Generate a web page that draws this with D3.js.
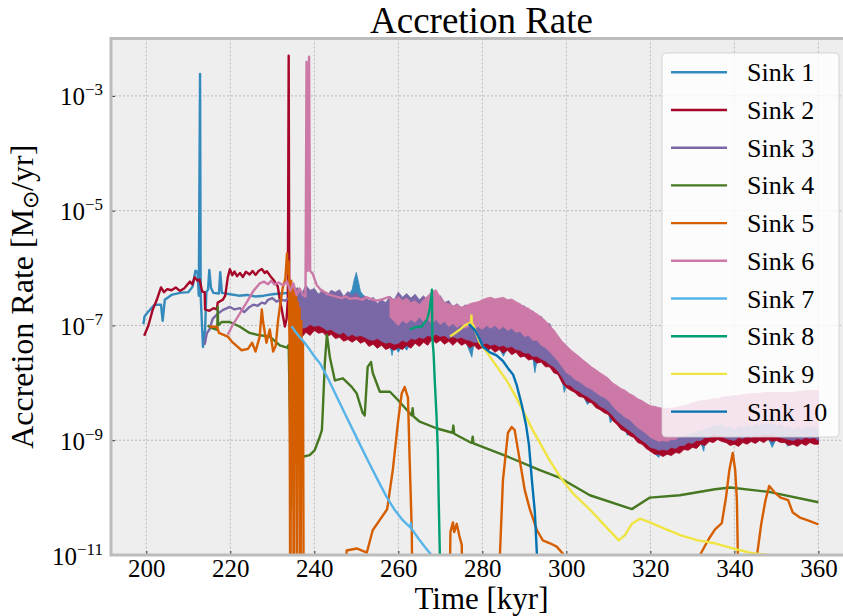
<!DOCTYPE html>
<html>
<head>
<meta charset="utf-8">
<script src="https://cdn.jsdelivr.net/npm/d3@7"></script>
<style>
  body { margin: 0; background: #fff; }
  svg { display: block; }
  text { font-family: "Liberation Serif", "Times New Roman", serif; fill: #000; }
</style>
</head>
<body>
<div id="chart"></div>
<script>
// values, rates in Msun/yr
const sinkNames = ['Sink 1', 'Sink 2', 'Sink 3', 'Sink 4', 'Sink 5', 'Sink 6', 'Sink 7', 'Sink 8', 'Sink 9', 'Sink 10'];
const sinkColors = ['#348ABD', '#A60628', '#7A68A6', '#467821', '#D55E00', '#CC79A7', '#56B4E9', '#009E73', '#F0E442', '#0072B2'];
const xTicks = [200, 220, 240, 260, 280, 300, 320, 340, 360];
const yTickExps = [-11, -9, -7, -5, -3];

// smooth parts: [time kyr, rate]
const sink1 = [[199.3,1.05e-7],[199.6,1.45e-7],[200.5,1.75e-7],[202,2.3e-7],[203.5,2.3e-7],[203.9,1.2e-7],[204.4,2.8e-7],[206,3.4e-7],[208,3.7e-7],[210,3.8e-7],[211,4.7e-7],[211.7,9e-7],[212.2,8.5e-7],[212.5,3.3e-7],[212.8,2.4e-3],[212.95,3.3e-7],[213.5,4.2e-8],[214.0,8.5e-8],[214.3,3.8e-7],[214.7,4.2e-7],[215.0,9.3e-7],[215.4,4.5e-7],[216,3.7e-7],[217.3,3.6e-7],[217.6,8.5e-7],[218,3.7e-7],[220,3.5e-7],[222,3.3e-7],[224,3.4e-7],[226,3.2e-7],[228,3.3e-7],[230,3.5e-7],[232,3.6e-7],[234,3.7e-7],[235,2.8e-7]];
const sink2 = [[199.5,6.6e-8],[200.5,1.0e-7],[201.5,1.85e-7],[202.5,2.8e-7],[203.5,4.6e-7],[204.2,3.8e-7],[205,4.3e-7],[206,4.1e-7],[207,4.6e-7],[208,4.0e-7],[209,4.4e-7],[210.4,5.8e-7],[211,5.2e-7],[211.5,6.9e-7],[212.2,6.0e-7],[212.7,6.3e-7],[213.3,3.9e-7],[213.9,3.8e-7],[214.0,1.9e-7],[215,1.8e-7],[216,2.0e-7],[216.8,1.9e-7],[217.0,2.5e-7],[218.2,2.8e-7],[218.8,3.3e-7],[219.4,6.9e-7],[219.9,9.5e-7],[220.5,7.5e-7],[221,8.7e-7],[221.6,7.2e-7],[222.3,8.2e-7],[223,7.0e-7],[223.7,8.6e-7],[224.6,7.7e-7],[225.3,8.9e-7],[226,7.6e-7],[226.8,9.0e-7],[227.5,9.6e-7],[228.2,8.2e-7],[228.7,8.8e-7],[229.5,7.3e-7],[230.3,6.2e-7],[231.3,4.8e-7],[231.8,2.8e-7],[232.5,1.5e-7],[233.0,9.6e-8],[233.4,1.3e-7],[233.7,2.8e-7],[233.9,5.0e-3],[234.05,1.7e-7]];
const sink3 = [[213.9,4.6e-8],[214.4,7.3e-8],[215.0,8.4e-8],[215.8,1.3e-7],[217,1.6e-7],[218.2,1.85e-7],[219.9,2.1e-7],[221,1.9e-7],[222.3,2.0e-7],[223.3,1.7e-7],[224.6,2.1e-7],[225.5,2.3e-7],[226.5,2.2e-7],[227.5,2.5e-7],[228.3,2.4e-7],[229,2.8e-7],[230,3.0e-7],[231,2.6e-7],[232,2.8e-7],[233,2.7e-7],[234,3.0e-7]];
const sink4 = [[214.6,1.0e-7],[215.6,9e-8],[216.9,8.4e-8],[217.0,2.1e-7],[217.1,1.0e-7],[218,1.15e-7],[219.9,1.15e-7],[222.3,9.5e-8],[224.6,7.4e-8],[226.3,6.9e-8],[229.4,6.4e-8],[231.8,4.5e-8],[233.5,4.1e-8],[233.9,4.6e-8],[234.2,2.2e-9],[234.4,6.3e-11],[234.6,2.0e-10],[234.9,4.0e-10],[236.5,5.0e-10],[238.9,5.5e-10],[240.1,6.7e-10],[241.3,1.15e-9],[241.8,1.5e-9],[242.0,3.0e-9],[242.5,2.2e-8],[243.0,6.9e-8],[243.7,2.8e-8],[244.9,1.1e-8],[246.8,1.2e-8],[248.9,8.5e-9],[250.1,6.5e-9],[251.5,3.0e-9],[252.0,2.7e-9],[252.7,1.9e-8],[253.5,2.3e-8],[253.9,1.5e-8],[255.6,7.0e-9],[258.0,7.0e-9],[260.4,4.6e-9],[263.2,2.7e-9],[263.4,3.6e-9],[263.6,2.6e-9],[265.1,2.1e-9],[269.2,1.6e-9],[272.9,1.35e-9],[273.1,1.8e-9],[273.3,1.3e-9],[277.0,9.3e-10],[277.5,9e-10],[277.7,1.15e-9],[277.9,8.8e-10],[286.5,5.0e-10],[293.7,3.0e-10],[298.5,2.2e-10],[305.6,1.1e-10],[315.6,6.3e-11],[319.9,1.0e-10],[327,1.1e-10],[335.4,1.4e-10],[339,1.5e-10],[348.5,1.25e-10],[360,8.3e-11]];
const sink5 = [[215.1,9.5e-8],[216.8,9.5e-8],[217.3,7.4e-8],[219.4,6.4e-8],[220.3,5.3e-8],[221.5,4.4e-8],[222.7,3.7e-8],[224.2,3.9e-8],[225.2,5.0e-8],[226.0,3.5e-8],[227.0,6.4e-8],[227.5,1.9e-7],[227.8,1.17e-7],[228.6,5.0e-8],[229.4,8.5e-8],[230.2,3.5e-8],[230.8,4.4e-8],[231.4,1.27e-7],[231.8,2.1e-7],[232.5,4.6e-7],[233.1,6.5e-7],[233.5,1.8e-6],[233.7,8e-7],[233.9,1.3e-6],[234.1,5e-8],[234.3,1e-13],[234.5,6e-7],[234.7,2e-10],[234.9,5e-7],[235.1,1e-13],[235.3,4e-7],[235.5,1e-9],[235.7,3.5e-7],[235.9,1e-13],[236.1,2.5e-7],[236.3,5e-9],[236.5,2e-7],[236.7,1e-13],[236.9,1.2e-7],[237.1,3e-9],[237.3,5e-8],[237.5,1e-13],
  [246.0,1e-13],[247.7,1.2e-11],[250.1,1.3e-11],[252.5,1.1e-11],[253.9,2.7e-11],[255.6,4.1e-11],[257.3,6.2e-11],[257.5,7.5e-11],[258.7,3.1e-10],[259.9,2.0e-9],[260.8,6.5e-9],[261.5,8.5e-9],[262.3,5.5e-9],[262.7,4.5e-10],[263.2,2.7e-11],[263.5,1e-13],
  [272.0,1e-13],[272.4,2.5e-11],[273.0,3.7e-11],[273.3,2.5e-11],[273.9,3.5e-11],[274.5,2.2e-11],[275.1,1.5e-11],[275.5,1e-13],
  [284.0,1e-13],[284.2,1.05e-11],[284.9,2.0e-10],[286.1,1.35e-9],[287.0,1.7e-9],[287.7,1.5e-9],[288.9,4.5e-10],[290.1,1.35e-10],[291.3,6.3e-11],[293.0,2.7e-11],[294.4,1.8e-11],[296.1,1.6e-11],[297.7,1.4e-11],[299.2,1.05e-11],[300.5,1e-13],
  [331.5,1e-13],[331.8,1.0e-11],[333.9,1.9e-11],[335.4,2.8e-11],[337.0,3.6e-11],[338.0,1.0e-10],[338.8,3.0e-10],[339.6,6.0e-10],[340.2,3.0e-10],[340.6,9.0e-11],[341.3,1e-13],
  [345.0,1e-13],[345.4,1.0e-11],[346.4,3.5e-11],[347.4,9.0e-11],[348.3,1.6e-10],[349.5,1.25e-10],[351.0,1.0e-10],[352.8,9.0e-11],[353.9,5.5e-11],[355.6,4.5e-11],[358.0,3.9e-11],[360.0,3.4e-11]];
const sink6 = [[219.4,6.9e-8],[220.5,1.0e-7],[222,1.5e-7],[224,2.6e-7],[225.5,4.0e-7],[227,5.4e-7],[228,5.8e-7],[229,5.2e-7],[229.7,6.0e-7],[230.5,5.2e-7],[231.5,5.6e-7],[232.5,5.0e-7],[233.5,5.8e-7],[234.3,4.0e-7],[235,5.4e-7],[235.8,3.4e-7],[236.5,4.4e-7],[237.3,3.4e-7],[237.9,3.2e-7],[238.15,3.9e-3],[238.4,9e-7],[238.75,4.8e-3],[239.0,9e-7],[239.6,8e-7],[240.6,5.0e-7],[241.5,4.2e-7],[242.5,3.8e-7],[243.7,3.4e-7],[245,3.2e-7],[246.5,3.0e-7],[247.5,3.2e-7],[248.5,2.9e-7],[250,3.0e-7],[251.5,2.8e-7],[252.3,3.1e-7],[253,3.0e-7],[254,2.8e-7],[255,2.7e-7],[256.5,2.9e-7],[257.5,3.1e-7],[258,3.1e-7]];
const sink7 = [[234.6,9.7e-8],[235.5,7.8e-8],[236.5,6.3e-8],[237.5,5.2e-8],[238.9,3.8e-8],[240.0,2.9e-8],[241.5,2.1e-8],[243.5,1.1e-8],[245.4,5.6e-9],[247.3,2.9e-9],[249.2,1.5e-9],[251.2,7.5e-10],[253.2,3.8e-10],[255.3,1.9e-10],[257.3,1.0e-10],[259.2,6.0e-11],[261.1,4.0e-11],[262.9,3.0e-11],[263.0,3.6e-11],[263.1,2.9e-11],[265.1,1.8e-11],[266.6,1.3e-11],[267.9,1.0e-11],[268.8,8e-12]];
const sink8 = [[262.7,8.5e-8],[263.8,9.2e-8],[265.6,9.6e-8],[266.9,1.3e-7],[267.5,2.0e-7],[267.9,3.5e-7],[268.0,4.2e-7],[268.1,6e-8],[268.3,4.0e-8],[268.4,3.2e-8],[268.7,1.0e-8],[269.1,2.6e-9],[269.4,6.9e-10],[269.6,1.0e-10],[269.9,9e-12]];
const sink9 = [[272.3,6.5e-8],[272.7,6.7e-8],[274.6,8.4e-8],[275.8,1.0e-7],[277.0,1.1e-7],[277.3,1.1e-7],[277.4,1.5e-7],[277.5,1.1e-7],[278.0,9.5e-8],[279.4,5.0e-8],[281.1,3.4e-8],[283.5,1.9e-8],[285.8,1.1e-8],[288.2,5.3e-9],[292.0,1.5e-9],[296.0,4.5e-10],[298.5,2.3e-10],[301.5,1.2e-10],[305.6,6.2e-11],[309.6,3.0e-11],[312.5,1.8e-11],[313.9,2.2e-11],[315.6,3.5e-11],[317.5,4.3e-11],[319.9,3.7e-11],[323.2,2.9e-11],[327.3,2.2e-11],[331.3,1.8e-11],[335.4,1.6e-11],[339.6,1.3e-11],[343.7,1.1e-11],[347.7,1.0e-11],[349.5,9e-12]];
const sink10 = [[276.8,1.05e-7],[278.2,8.4e-8],[279.4,5.7e-8],[280.1,4.3e-8],[281.8,3.4e-8],[283.4,3.0e-8],[284.9,2.4e-8],[286.1,1.8e-8],[287.3,1.4e-8],[288.2,9.0e-9],[289.4,4.1e-9],[290.4,1.85e-9],[291.1,8.3e-10],[291.8,2.0e-10],[292.5,5.6e-11],[293.0,1.0e-11],[293.3,5e-12]];

// fast-flickering parts, read as the low and high edge of the noise: [time kyr, low rate, high rate]
const sink1Noise = [[235,7.9e-8,2.8e-7],[236,7.6e-8,3.1e-7],[238,8.5e-8,2.8e-7],[240,9.2e-8,2.6e-7],[242,8.5e-8,2.8e-7],[244,7.6e-8,2.8e-7],[246,6.7e-8,3.1e-7],[248,6.2e-8,3.3e-7],[249,6.7e-8,4.2e-7],[249.5,6.7e-8,6.3e-7],[250,6.2e-8,8.4e-7],[250.5,6.2e-8,5.8e-7],[251,5.7e-8,3.9e-7],[252,5.7e-8,3.1e-7],[254,5.1e-8,2.4e-7],[256,4.9e-8,2.2e-7],[258,4.5e-8,1.9e-7],[258.5,3.0e-8,1.75e-7],[259,4.5e-8,1.55e-7],[260,3.4e-8,1.75e-7],[261,4.5e-8,1.75e-7],[262,3.7e-8,1.6e-7],[263,4.9e-8,1.6e-7],[264,5.3e-8,1.6e-7],[266,5.7e-8,1.6e-7],[268,6.2e-8,1.55e-7],[270,5.9e-8,1.4e-7],[272,5.7e-8,1.4e-7],[274,5.5e-8,1.27e-7],[276,5.3e-8,1.27e-7],[277.5,2.8e-8,1.17e-7],[278,4.9e-8,1.17e-7],[280,4.5e-8,1.17e-7],[282,4.3e-8,1.17e-7],[284,4.1e-8,1.08e-7],[285,2.9e-8,1.08e-7],[286,4.0e-8,1.08e-7],[288,3.7e-8,1.0e-7],[290,3.1e-8,9.2e-8],[292,2.8e-8,7.9e-8],[292.5,1.5e-8,7.3e-8],[293,2.4e-8,6.7e-8],[294,2.5e-8,5.7e-8],[296,2.0e-8,4.5e-8],[298,1.5e-8,3.1e-8],[299,1.1e-8,2.6e-8],[299.5,6.8e-9,2.4e-8],[300,9.0e-9,2.1e-8],[302,7.4e-9,1.6e-8],[304,6.0e-9,1.25e-8],[305,4.2e-9,1.15e-8],[306,4.9e-9,9.8e-9],[308,3.7e-9,8.3e-9],[310,3.0e-9,6.5e-9],[310.5,2.0e-9,6.0e-9],[311,2.4e-9,5.6e-9],[312,2.0e-9,4.7e-9],[314,1.54e-9,3.7e-9],[314.5,1.21e-9,3.4e-9],[315,1.31e-9,3.4e-9],[316,1.21e-9,3.2e-9],[318,9.1e-10,2.5e-9],[320,6.9e-10,2.1e-9],[322,5.0e-10,1.8e-9],[322.5,6.1e-10,1.8e-9],[324,6.1e-10,1.8e-9],[326,6.7e-10,1.95e-9],[328,7.5e-10,2.1e-9],[330,8.1e-10,2.3e-9],[332,9.1e-10,2.5e-9],[332.7,6.4e-10,2.5e-9],[333,8.8e-10,2.5e-9],[334,1.03e-9,2.5e-9],[336,1.12e-9,2.7e-9],[338,9.9e-10,2.7e-9],[340,9.1e-10,2.7e-9],[342,9.9e-10,2.7e-9],[344,1.03e-9,2.8e-9],[346,1.07e-9,2.8e-9],[348,1.12e-9,2.9e-9],[349,7.5e-10,2.9e-9],[350,1.07e-9,2.9e-9],[352,9.9e-10,2.9e-9],[352.7,7.8e-10,2.9e-9],[353,8.8e-10,2.9e-9],[354,9.1e-10,2.7e-9],[356,9.5e-10,2.8e-9],[358,9.9e-10,2.9e-9],[360,9.1e-10,2.7e-9]];

const sink2Noise = [[234.05,7.6e-8,1.7e-7],[235,6.4e-8,1.4e-7],[236,7.3e-8,1.6e-7],[237,6.2e-8,1.4e-7],[238,7.6e-8,1.7e-7],[239,6.7e-8,1.5e-7],[240,8.2e-8,1.8e-7],[241,7.3e-8,1.6e-7],[242,7.6e-8,1.7e-7],[243,6.4e-8,1.4e-7],[244,7.0e-8,1.55e-7],[245,5.9e-8,1.3e-7],[246,6.2e-8,1.4e-7],[247,5.3e-8,1.2e-7],[248,5.7e-8,1.3e-7],[249,5.1e-8,1.1e-7],[250,5.7e-8,1.3e-7],[251,4.9e-8,1.1e-7],[252,5.3e-8,1.2e-7],[253,4.3e-8,9.6e-8],[254,4.7e-8,1.05e-7],[255,4.0e-8,8.9e-8],[256,4.5e-8,1.0e-7],[257,3.8e-8,8.5e-8],[258,4.1e-8,9.2e-8],[259,3.7e-8,8.2e-8],[260,4.1e-8,9.2e-8],[261,3.8e-8,8.5e-8],[262,4.5e-8,1.0e-7],[263,4.0e-8,8.9e-8],[264,4.9e-8,1.1e-7],[265,4.3e-8,9.6e-8],[266,5.1e-8,1.1e-7],[267,4.5e-8,1.0e-7],[268,5.7e-8,1.3e-7],[269,4.9e-8,1.1e-7],[270,5.5e-8,1.2e-7],[271,4.7e-8,1.05e-7],[272,5.3e-8,1.2e-7],[273,4.5e-8,1.0e-7],[274,5.3e-8,1.2e-7],[275,4.5e-8,1.0e-7],[276,4.9e-8,1.1e-7],[277,4.1e-8,9.2e-8],[278,4.5e-8,1.0e-7],[279,3.8e-8,8.5e-8],[280,4.1e-8,9.2e-8],[281,3.5e-8,7.9e-8],[282,4.0e-8,8.9e-8],[283,3.4e-8,7.6e-8],[284,3.8e-8,8.5e-8],[285,3.3e-8,7.3e-8],[286,3.7e-8,8.2e-8],[287,3.1e-8,7.0e-8],[288,3.4e-8,7.6e-8],[289,2.8e-8,6.2e-8],[290,2.9e-8,6.4e-8],[291,2.5e-8,5.5e-8],[292,2.6e-8,5.7e-8],[293,2.2e-8,4.9e-8],[294,2.3e-8,5.1e-8],[295,1.9e-8,4.3e-8],[296,1.9e-8,4.1e-8],[297,1.5e-8,3.4e-8],[298,1.4e-8,3.1e-8],[299,1.0e-8,2.3e-8],[300,8.3e-9,1.85e-8],[301,7.4e-9,1.65e-8],[302,6.8e-9,1.5e-8],[303,5.8e-9,1.3e-8],[304,5.6e-9,1.25e-8],[305,4.7e-9,1.05e-8],[306,4.5e-9,1.0e-8],[307,3.7e-9,8.3e-9],[308,3.4e-9,7.7e-9],[309,3.0e-9,6.8e-9],[310,2.8e-9,6.3e-9],[311,2.2e-9,4.9e-9],[312,1.9e-9,4.2e-9],[313,1.54e-9,3.4e-9],[314,1.42e-9,3.2e-9],[315,1.21e-9,2.7e-9],[316,1.12e-9,2.5e-9],[317,9.1e-10,2.0e-9],[318,8.5e-10,1.9e-9],[319,7.2e-10,1.6e-9],[320,6.4e-10,1.42e-9],[321,5.7e-10,1.26e-9],[322,5.7e-10,1.26e-9],[323,5.2e-10,1.17e-9],[324,5.7e-10,1.26e-9],[325,5.4e-10,1.21e-9],[326,6.1e-10,1.36e-9],[327,5.9e-10,1.31e-9],[328,6.9e-10,1.54e-9],[329,6.7e-10,1.48e-9],[330,7.5e-10,1.66e-9],[331,7.2e-10,1.6e-9],[332,8.5e-10,1.9e-9],[333,8.1e-10,1.8e-9],[334,9.5e-10,2.1e-9],[335,9.1e-10,2.0e-9],[336,1.03e-9,2.3e-9],[337,9.5e-10,2.1e-9],[338,9.1e-10,2.0e-9],[339,8.1e-10,1.8e-9],[340,8.5e-10,1.9e-9],[341,7.8e-10,1.75e-9],[342,9.1e-10,2.0e-9],[343,8.5e-10,1.9e-9],[344,9.5e-10,2.1e-9],[345,8.8e-10,1.95e-9],[346,9.9e-10,2.2e-9],[347,9.1e-10,2.0e-9],[348,1.03e-9,2.3e-9],[349,9.5e-10,2.1e-9],[350,9.9e-10,2.2e-9],[351,9.1e-10,2.0e-9],[352,9.1e-10,2.0e-9],[353,8.1e-10,1.8e-9],[354,8.5e-10,1.9e-9],[355,7.8e-10,1.75e-9],[356,8.8e-10,1.95e-9],[357,8.1e-10,1.8e-9],[358,9.1e-10,2.0e-9],[359,8.5e-10,1.9e-9],[360,8.5e-10,1.9e-9]];

const sink3Noise = [[234,9.6e-8,5.0e-7],[235,8.5e-8,3.9e-7],[236,8.2e-8,4.6e-7],[237,8.9e-8,3.6e-7],[238,9.2e-8,5.0e-7],[239,1.04e-7,4.1e-7],[240,9.6e-8,4.4e-7],[241,1.0e-7,3.5e-7],[242,9.2e-8,4.2e-7],[243,8.2e-8,3.3e-7],[244,8.5e-8,4.1e-7],[245,7.6e-8,3.8e-7],[246,7.0e-8,4.2e-7],[247,7.6e-8,3.2e-7],[248,6.4e-8,3.9e-7],[249,7.0e-8,3.3e-7],[250,6.4e-8,3.8e-7],[251,6.7e-8,3.0e-7],[252,6.2e-8,3.3e-7],[253,5.7e-8,2.7e-7],[254,5.5e-8,3.1e-7],[255,5.9e-8,2.4e-7],[256,5.3e-8,2.8e-7],[257,4.9e-8,2.5e-7],[258,5.1e-8,3.2e-7],[259,4.7e-8,2.8e-7],[260,4.9e-8,3.8e-7],[261,5.5e-8,3.1e-7],[262,5.1e-8,3.6e-7],[263,5.9e-8,3.0e-7],[264,5.7e-8,3.5e-7],[265,6.2e-8,2.8e-7],[266,5.9e-8,3.3e-7],[267,6.7e-8,2.7e-7],[268,6.4e-8,3.8e-7],[269,7.0e-8,3.0e-7],[270,6.4e-8,3.3e-7],[271,6.7e-8,2.5e-7],[272,5.9e-8,2.7e-7],[273,6.4e-8,2.1e-7],[274,5.9e-8,2.4e-7],[275,6.2e-8,2.0e-7],[276,5.7e-8,2.3e-7],[277,5.5e-8,2.0e-7],[278,5.1e-8,2.4e-7],[279,5.1e-8,2.1e-7],[280,4.7e-8,2.7e-7],[281,4.9e-8,2.4e-7],[282,4.5e-8,3.0e-7],[283,4.7e-8,2.5e-7],[284,4.3e-8,3.0e-7],[285,4.5e-8,2.4e-7],[286,4.1e-8,2.8e-7],[287,4.3e-8,2.3e-7],[288,3.8e-8,2.5e-7],[289,3.7e-8,2.1e-7],[290,3.3e-8,2.2e-7],[291,3.3e-8,1.7e-7],[292,2.9e-8,1.8e-7],[293,2.9e-8,1.4e-7],[294,2.6e-8,1.45e-7],[295,2.4e-8,1.08e-7],[296,2.1e-8,1.08e-7],[297,1.9e-8,7.3e-8],[298,1.6e-8,6.4e-8],[299,1.25e-8,4.5e-8],[300,9.4e-9,4.3e-8],[301,9.0e-9,3.1e-8],[302,7.7e-9,3.1e-8],[303,7.1e-9,2.4e-8],[304,6.3e-9,2.4e-8],[305,5.8e-9,1.8e-8],[306,5.1e-9,1.8e-8],[307,4.6e-9,1.4e-8],[308,3.9e-9,1.4e-8],[309,3.6e-9,1.1e-8],[310,3.2e-9,1.15e-8],[311,2.7e-9,8.7e-9],[312,2.2e-9,8.7e-9],[313,1.9e-9,6.8e-9],[314,1.66e-9,7.1e-9],[315,1.48e-9,5.6e-9],[316,1.31e-9,5.8e-9],[317,1.12e-9,4.5e-9],[318,9.9e-10,4.7e-9],[319,8.8e-10,3.7e-9],[320,7.5e-10,3.9e-9],[321,7.2e-10,3.3e-9],[322,6.7e-10,3.6e-9],[323,6.9e-10,3.2e-9],[324,6.7e-10,3.4e-9],[325,7.5e-10,3.0e-9],[326,7.2e-10,3.6e-9],[327,8.1e-10,3.3e-9],[328,8.1e-10,3.9e-9],[329,9.1e-10,3.6e-9],[330,8.8e-10,4.4e-9],[331,9.9e-10,4.0e-9],[332,9.9e-10,4.7e-9],[333,1.12e-9,4.2e-9],[334,1.12e-9,4.9e-9],[335,1.26e-9,4.5e-9],[336,1.21e-9,5.1e-9],[337,1.17e-9,4.7e-9],[338,1.07e-9,5.6e-9],[339,1.03e-9,4.9e-9],[340,9.9e-10,5.8e-9],[341,1.12e-9,5.1e-9],[342,1.07e-9,6.0e-9],[343,1.17e-9,5.3e-9],[344,1.12e-9,6.3e-9],[345,1.21e-9,5.6e-9],[346,1.17e-9,6.3e-9],[347,1.26e-9,5.8e-9],[348,1.21e-9,6.5e-9],[349,1.26e-9,5.8e-9],[350,1.17e-9,6.5e-9],[351,1.12e-9,5.8e-9],[352,1.07e-9,6.5e-9],[353,1.03e-9,5.8e-9],[354,9.9e-10,6.5e-9],[355,1.07e-9,6.0e-9],[356,1.03e-9,6.8e-9],[357,1.12e-9,6.3e-9],[358,1.07e-9,7.1e-9],[359,1.12e-9,6.3e-9],[360,9.9e-10,7.1e-9]];

const sink6Noise = [[258,1.4e-7,3.1e-7],[259,1.17e-7,2.8e-7],[260,1.0e-7,3.2e-7],[261,1.22e-7,2.7e-7],[262,1.08e-7,3.0e-7],[263,1.27e-7,2.5e-7],[264,1.13e-7,2.7e-7],[265,1.4e-7,2.3e-7],[266,1.17e-7,2.8e-7],[267,1.27e-7,3.3e-7],[268,1.08e-7,3.9e-7],[269,1.27e-7,4.2e-7],[270,1.04e-7,3.1e-7],[271,1.17e-7,2.5e-7],[272,9.6e-8,2.4e-7],[273,1.08e-7,2.2e-7],[274,9.2e-8,2.3e-7],[275,1.04e-7,2.1e-7],[276,8.9e-8,2.2e-7],[277,1.0e-7,2.4e-7],[278,8.5e-8,2.5e-7],[279,9.6e-8,2.6e-7],[280,8.5e-8,2.8e-7],[281,1.0e-7,3.0e-7],[282,8.9e-8,3.1e-7],[283,1.0e-7,2.9e-7],[284,8.5e-8,3.0e-7],[285,9.6e-8,3.1e-7],[286,8.2e-8,2.8e-7],[287,8.9e-8,2.9e-7],[288,7.6e-8,2.6e-7],[289,7.9e-8,2.4e-7],[290,6.4e-8,2.1e-7],[291,6.7e-8,2.0e-7],[292,5.5e-8,1.75e-7],[293,5.5e-8,1.6e-7],[294,4.5e-8,1.4e-7],[295,4.1e-8,1.22e-7],[296,3.5e-8,1.0e-7],[297,2.9e-8,8.5e-8],[298,2.4e-8,6.7e-8],[299,1.9e-8,5.3e-8],[300,1.5e-8,4.5e-8],[301,1.35e-8,3.8e-8],[302,1.15e-8,3.3e-8],[303,1.06e-8,2.9e-8],[304,9.4e-9,2.5e-8],[305,8.3e-9,2.2e-8],[306,7.7e-9,1.9e-8],[307,6.8e-9,1.7e-8],[308,6.0e-9,1.5e-8],[309,5.6e-9,1.35e-8],[310,4.9e-9,1.2e-8],[311,4.0e-9,1.0e-8],[312,3.3e-9,9.0e-9],[313,2.9e-9,8.0e-9],[314,2.5e-9,7.4e-9],[315,2.3e-9,6.5e-9],[316,1.95e-9,6.0e-9],[317,1.66e-9,5.3e-9],[318,1.48e-9,4.9e-9],[319,1.31e-9,4.4e-9],[320,1.12e-9,4.0e-9],[321,1.03e-9,3.9e-9],[322,9.5e-10,3.7e-9],[323,9.9e-10,3.6e-9],[324,9.5e-10,3.6e-9],[325,1.03e-9,3.6e-9],[326,1.03e-9,3.7e-9],[327,1.17e-9,3.9e-9],[328,1.17e-9,4.0e-9],[329,1.31e-9,4.2e-9],[330,1.31e-9,4.5e-9],[331,1.48e-9,4.7e-9],[332,1.48e-9,4.9e-9],[333,1.66e-9,4.9e-9],[334,1.66e-9,5.1e-9],[335,1.9e-9,5.3e-9],[336,1.8e-9,5.3e-9],[337,1.95e-9,5.6e-9],[338,1.66e-9,5.8e-9],[339,1.8e-9,5.8e-9],[340,1.54e-9,6.0e-9],[341,1.8e-9,6.0e-9],[342,1.66e-9,6.3e-9],[343,1.9e-9,6.3e-9],[344,1.7e-9,6.5e-9],[345,1.95e-9,6.5e-9],[346,1.8e-9,6.5e-9],[347,2.0e-9,6.8e-9],[348,1.9e-9,6.8e-9],[349,2.0e-9,6.8e-9],[350,1.8e-9,6.8e-9],[351,1.95e-9,6.8e-9],[352,1.66e-9,6.8e-9],[353,1.8e-9,6.8e-9],[354,1.54e-9,6.8e-9],[355,1.7e-9,7.1e-9],[356,1.6e-9,7.1e-9],[357,1.8e-9,7.4e-9],[358,1.66e-9,7.4e-9],[359,1.8e-9,7.4e-9],[360,1.54e-9,7.4e-9]];

const sinks = [sink1, sink2, sink3, sink4, sink5, sink6, sink7, sink8, sink9, sink10];
const sinkNoise = [sink1Noise, sink2Noise, sink3Noise, [], [], sink6Noise, [], [], [], []];

const W = 843, H = 616;
const PLOT = { left: 111, top: 38.5, right: 852, bottom: 555 };

const svg = d3.select('#chart').append('svg')
  .attr('width', W)
  .attr('height', H);

const x = d3.scaleLinear()
  .domain([191.6, 368])
  .range([PLOT.left, PLOT.right]);

const y = d3.scaleLog()
  .domain([1e-11, 1e-2])
  .range([PLOT.bottom, PLOT.top]);

const yTicks = yTickExps.map((e) => Math.pow(10, e));

svg.append('defs').append('clipPath')
  .attr('id', 'plot-clip')
  .append('rect')
  .attr('x', PLOT.left)
  .attr('y', PLOT.top)
  .attr('width', PLOT.right - PLOT.left)
  .attr('height', PLOT.bottom - PLOT.top);

svg.append('rect')
  .attr('class', 'chart-background')
  .attr('x', PLOT.left)
  .attr('y', PLOT.top)
  .attr('width', PLOT.right - PLOT.left)
  .attr('height', PLOT.bottom - PLOT.top)
  .attr('fill', '#eeeeee');

// dotted grid
const grid = svg.append('g').attr('class', 'grid');
grid.selectAll('.vgrid')
  .data(xTicks)
  .enter()
  .append('line')
  .attr('x1', (d) => x(d))
  .attr('x2', (d) => x(d))
  .attr('y1', PLOT.top)
  .attr('y2', PLOT.bottom)
  .attr('stroke', '#b2b2b2')
  .attr('stroke-width', 0.9)
  .attr('stroke-dasharray', '2,2');

grid.selectAll('.hgrid')
  .data(yTicks)
  .enter()
  .append('line')
  .attr('x1', PLOT.left)
  .attr('x2', PLOT.right)
  .attr('y1', (d) => y(d))
  .attr('y2', (d) => y(d))
  .attr('stroke', '#b2b2b2')
  .attr('stroke-width', 0.9)
  .attr('stroke-dasharray', '2,2');

// series, drawn in sink order so later sinks sit on top
const generateLine = d3.line()
  .x((d) => x(d[0]))
  .y((d) => y(d[1]));

const generateNoise = d3.area()
  .x((d) => x(d[0]))
  .y0((d) => y(d[1]))
  .y1((d) => y(d[2]));

const series = svg.append('g')
  .attr('class', 'line-container')
  .attr('clip-path', 'url(#plot-clip)')
  .selectAll('.sink')
  .data(sinks.map((pts, i) => ({ pts: pts, noise: sinkNoise[i], color: sinkColors[i] })))
  .enter()
  .append('g')
  .attr('class', 'sink');

series.append('path')
  .attr('class', 'line')
  .attr('fill', 'none')
  .attr('stroke', (d) => d.color)
  .attr('stroke-width', 2.4)
  .attr('stroke-linejoin', 'round')
  .attr('d', (d) => generateLine(d.pts));

series.filter((d) => d.noise.length > 0)
  .append('path')
  .attr('class', 'noise')
  .attr('fill', (d) => d.color)
  .attr('stroke', (d) => d.color)
  .attr('stroke-width', 0.8)
  .attr('d', (d) => generateNoise(d.noise));

// axes
const xAxis = svg.append('g')
  .attr('class', 'x axis')
  .attr('transform', 'translate(0,' + PLOT.bottom + ')')
  .call(d3.axisBottom(x).tickValues(xTicks).tickSize(-4).tickPadding(4).tickFormat(d3.format('d')));

const yAxis = svg.append('g')
  .attr('class', 'y axis')
  .attr('transform', 'translate(' + PLOT.left + ',0)')
  .call(d3.axisLeft(y).tickValues(yTicks).tickSize(-4).tickPadding(9).tickFormat(''));

svg.selectAll('.axis .domain').remove();
svg.selectAll('.axis .tick line').attr('stroke', '#333333').attr('stroke-width', 1);

xAxis.selectAll('.tick text')
  .attr('font-family', '"Liberation Serif", serif')
  .attr('font-size', 25)
  .attr('fill', '#000')
  .attr('dy', '0.71em');

yAxis.selectAll('.tick text').each(function(d, i) {
  const t = d3.select(this)
    .attr('font-family', '"Liberation Serif", serif')
    .attr('font-size', 25)
    .attr('fill', '#000')
    .attr('x', -8)
    .attr('dy', 9)
    .attr('text-anchor', 'end');
  t.append('tspan').text('10');
  t.append('tspan')
    .attr('font-size', 17)
    .attr('dy', -10)
    .text('\u2212' + Math.abs(yTickExps[i]));
});

// frame
svg.append('rect')
  .attr('x', PLOT.left)
  .attr('y', PLOT.top)
  .attr('width', PLOT.right - PLOT.left)
  .attr('height', PLOT.bottom - PLOT.top)
  .attr('fill', 'none')
  .attr('stroke', '#bcbcbc')
  .attr('stroke-width', 3);

// labels
svg.append('text')
  .attr('x', (PLOT.left + PLOT.right) / 2)
  .attr('y', 33)
  .attr('text-anchor', 'middle')
  .attr('font-size', 37)
  .text('Accretion Rate');

svg.append('text')
  .attr('x', (PLOT.left + PLOT.right) / 2)
  .attr('y', 609)
  .attr('text-anchor', 'middle')
  .attr('font-size', 31)
  .text('Time [kyr]');

const yLabel = svg.append('text')
  .attr('transform', 'translate(33,' + ((PLOT.top + PLOT.bottom) / 2) + ') rotate(-90)')
  .attr('text-anchor', 'middle')
  .attr('font-size', 32);
yLabel.append('tspan').text('Accretion Rate [M');
yLabel.append('tspan').attr('font-size', 22).attr('dy', 5).text('\u2299');
yLabel.append('tspan').attr('dy', -5).text('/yr]');

// legend
const legend = svg.append('g').attr('class', 'legend');
legend.append('rect')
  .attr('x', 662)
  .attr('y', 53)
  .attr('width', 177)
  .attr('height', 384)
  .attr('rx', 4)
  .attr('fill', '#ffffff')
  .attr('fill-opacity', 0.8)
  .attr('stroke', '#cccccc')
  .attr('stroke-opacity', 0.8)
  .attr('stroke-width', 1);

const legendItem = legend.selectAll('.legend-item')
  .data(sinkNames)
  .enter()
  .append('g')
  .attr('class', 'legend-item')
  .attr('transform', (d, i) => 'translate(0,' + (72.3 + 37.7 * i) + ')');

legendItem.append('line')
  .attr('x1', 671)
  .attr('x2', 727)
  .attr('stroke', (d, i) => sinkColors[i])
  .attr('stroke-width', 2.4);

legendItem.append('text')
  .attr('x', 747)
  .attr('y', 9)
  .attr('font-size', 26)
  .text((d) => d);
</script>
</body>
</html>
